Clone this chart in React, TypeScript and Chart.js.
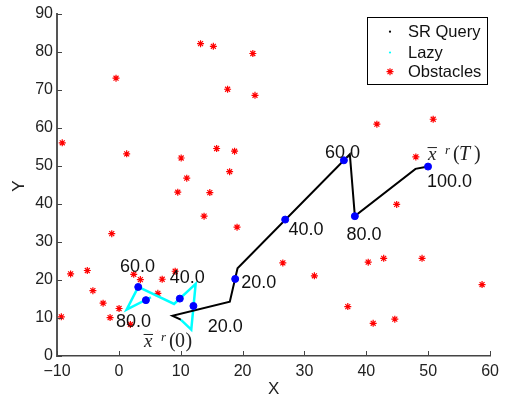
import React, { useEffect, useRef } from "react";
import { Chart, registerables } from "chart.js";
Chart.register(...registerables);

// ---------- data ----------
const xTickValues = [-10, 0, 10, 20, 30, 40, 50, 60];
const yTickValues = [0, 10, 20, 30, 40, 50, 60, 70, 80, 90];

const srPathX = [10.0, 8.65, 17.93, 19.18, 37.33, 38.14, 47.94, 49.97];
const srPathY = [9.56, 10.61, 14.3, 23.1, 53.1, 36.8, 49.25, 49.85];
const srNodeX = [18.8, 26.88, 36.37, 38.14, 49.97];
const srNodeY = [20.28, 35.9, 51.5, 36.8, 49.85];
const srNodeLabels = ["20.0", "40.0", "60.0", "80.0", "100.0"];

const lazyPathX = [10.0, 11.7, 12.41, 8.92, 3.13, 1.25, 5.18];
const lazyPathY = [9.56, 6.93, 18.96, 13.7, 18.17, 12.19, 15.46];
const lazyNodeX = [12.05, 9.85, 3.13, 4.37];
const lazyNodeY = [13.17, 15.1, 18.17, 14.7];
const lazyNodeLabels = ["20.0", "40.0", "60.0", "80.0"];

const startPoint = [8.65, 10.61];
const endPoint = [49.97, 49.85];

const obstacleX = [
  -0.46, 13.2, 15.27, 21.65, 17.57, 22.0, 41.7, 50.8,
  -9.15, 1.26, 10.07, 15.8, 18.7, 10.97, 17.9, 9.52, 14.7, 13.77, 19.1, -1.15, 48.0, 44.9,
  26.5, 31.6, 40.3, 42.8, 49.0, 37.0, 41.1, 44.6, 58.7,
  -7.8, -5.1, -4.2, -2.55, -9.3, -1.42, 0.03, 1.86, 2.4, 3.47, 7.0, 6.3, 9.1,
];
const obstacleY = [
  73.1, 82.2, 81.5, 79.6, 70.2, 68.6, 61.0, 62.3,
  56.1, 53.2, 52.1, 54.6, 53.9, 46.8, 48.5, 43.1, 43.0, 36.8, 33.9, 32.2, 52.4, 39.9,
  24.5, 21.1, 24.7, 25.7, 25.7, 13.0, 8.6, 9.7, 18.8,
  21.6, 22.5, 17.2, 13.9, 10.3, 10.1, 12.5, 8.3, 21.5, 20.1, 20.2, 16.5, 22.3,
];

const legendLabels = ["SR Query", "Lazy", "Obstacles"];
const xTitle = "X";
const yTitle = "Y";

// ---------- style / layout ----------
const SANS = '"Liberation Sans", Arial, Helvetica, sans-serif';
const SERIF = '"Liberation Serif", "DejaVu Serif", serif';
// pixel offsets of node labels: [dx to left edge, dy to baseline]
const srLabelOffsets = [[6, 9], [3.3, 15], [-19, -2.2], [-8.4, 24], [-1, 20.4]];
const lazyLabelOffsets = [[14.3, 26.4], [-10, -15.6], [-18.3, -14.6], [-30, 26.4]];

const pts = (xs: number[], ys: number[]) => xs.map((x, i) => ({ x, y: ys[i] }));

function drawXbar(ctx: CanvasRenderingContext2D, left: number, base: number, arg: string, italicArg: boolean) {
  ctx.save();
  ctx.fillStyle = "#222";
  ctx.strokeStyle = "#222";
  ctx.textAlign = "left";
  ctx.textBaseline = "alphabetic";
  ctx.font = `italic 19px ${SERIF}`;
  ctx.fillText("x", left, base);
  const w = ctx.measureText("x").width;
  ctx.lineWidth = 1;
  ctx.beginPath();
  ctx.moveTo(left - 0.5, base - 12.5);
  ctx.lineTo(left + w + 0.5, base - 12.5);
  ctx.stroke();
  ctx.font = `italic 13px ${SERIF}`;
  ctx.fillText("r", left + 17, base - 6);
  ctx.font = `20px ${SERIF}`;
  ctx.fillText("(", left + 25, base);
  ctx.font = `${italicArg ? "italic " : ""}20px ${SERIF}`;
  ctx.fillText(arg, left + 31, base);
  ctx.font = `20px ${SERIF}`;
  ctx.fillText(")", left + (italicArg ? 46 : 41.5), base);
  ctx.restore();
}

function drawStar(ctx: CanvasRenderingContext2D, x: number, y: number, r: number) {
  ctx.beginPath();
  for (let k = 0; k < 4; k++) {
    const a = (k * Math.PI) / 4;
    ctx.moveTo(x - r * Math.cos(a), y - r * Math.sin(a));
    ctx.lineTo(x + r * Math.cos(a), y + r * Math.sin(a));
  }
  ctx.stroke();
}

const overlayPlugin = {
  id: "overlay",
  afterDraw(chart: any) {
    const ctx: CanvasRenderingContext2D = chart.ctx;
    const xs = chart.scales.x;
    const ys = chart.scales.y;
    const area = chart.chartArea;
    ctx.save();
    // inward ticks
    ctx.strokeStyle = "#444";
    ctx.lineWidth = 1;
    ctx.beginPath();
    xTickValues.forEach((v) => {
      const px = Math.round(xs.getPixelForValue(v)) + 0.5;
      ctx.moveTo(px, area.bottom);
      ctx.lineTo(px, area.bottom - 5);
    });
    yTickValues.forEach((v) => {
      const py = Math.round(ys.getPixelForValue(v)) + 0.5;
      ctx.moveTo(area.left, py);
      ctx.lineTo(area.left + 5, py);
    });
    ctx.stroke();

    // node labels
    ctx.fillStyle = "#111";
    ctx.font = `18px ${SANS}`;
    ctx.textAlign = "left";
    ctx.textBaseline = "alphabetic";
    srNodeLabels.forEach((t, i) => {
      const px = xs.getPixelForValue(srNodeX[i]);
      const py = ys.getPixelForValue(srNodeY[i]);
      ctx.fillText(t, px + srLabelOffsets[i][0], py + srLabelOffsets[i][1]);
    });
    lazyNodeLabels.forEach((t, i) => {
      const px = xs.getPixelForValue(lazyNodeX[i]);
      const py = ys.getPixelForValue(lazyNodeY[i]);
      ctx.fillText(t, px + lazyLabelOffsets[i][0], py + lazyLabelOffsets[i][1]);
    });

    // start / end labels
    drawXbar(ctx, xs.getPixelForValue(startPoint[0]) - 28.3, ys.getPixelForValue(startPoint[1]) + 31.3, "0", false);
    drawXbar(ctx, xs.getPixelForValue(endPoint[0]) + 0, ys.getPixelForValue(endPoint[1]) - 6.5, "T", true);

    // axis titles
    ctx.fillStyle = "#222";
    ctx.font = `17px ${SANS}`;
    ctx.textAlign = "center";
    ctx.textBaseline = "middle";
    ctx.fillText(xTitle, (area.left + area.right) / 2, 389.5);
    ctx.save();
    ctx.translate(19, 186);
    ctx.rotate(-Math.PI / 2);
    ctx.fillText(yTitle, 0, 0);
    ctx.restore();

    // legend
    const lx = 367.5, ly = 17.5, lw = 120, lh = 67;
    ctx.fillStyle = "#fff";
    ctx.fillRect(lx, ly, lw, lh);
    ctx.strokeStyle = "#000";
    ctx.lineWidth = 1;
    ctx.strokeRect(lx, ly, lw, lh);
    const rowY = [31.7, 52.5, 71.7];
    ctx.fillStyle = "#000";
    ctx.beginPath();
    ctx.arc(390, rowY[0], 1.1, 0, Math.PI * 2);
    ctx.fill();
    ctx.fillStyle = "#00ffff";
    ctx.beginPath();
    ctx.arc(390, rowY[1], 1.1, 0, Math.PI * 2);
    ctx.fill();
    ctx.strokeStyle = "#ff0000";
    ctx.lineWidth = 1.2;
    drawStar(ctx, 390, rowY[2], 3.5);
    ctx.fillStyle = "#111";
    ctx.font = `16.5px ${SANS}`;
    ctx.textAlign = "left";
    ctx.textBaseline = "middle";
    legendLabels.forEach((t, i) => ctx.fillText(t, 408, rowY[i] + 0.5));
    ctx.restore();
  },
};

export default function App() {
  const ref = useRef<HTMLCanvasElement | null>(null);
  useEffect(() => {
    if (!ref.current) return;
    const chart = new Chart(ref.current, {
      type: "scatter",
      data: {
        datasets: [
          {
            label: "SR nodes",
            data: pts(srNodeX, srNodeY),
            backgroundColor: "#0000ff",
            borderColor: "#0000ff",
            pointRadius: 3.5,
            showLine: false,
          },
          {
            label: "Lazy nodes",
            data: pts(lazyNodeX, lazyNodeY),
            backgroundColor: "#0000ff",
            borderColor: "#0000ff",
            pointRadius: 3.5,
            showLine: false,
          },
          {
            label: legendLabels[0],
            data: pts(srPathX, srPathY),
            borderColor: "#000",
            borderWidth: 2,
            pointRadius: 0,
            showLine: true,
            tension: 0,
          },
          {
            label: legendLabels[1],
            data: pts(lazyPathX, lazyPathY),
            borderColor: "#00ffff",
            borderWidth: 2.5,
            pointRadius: 0,
            showLine: true,
            tension: 0,
          },
          {
            label: legendLabels[2],
            data: pts(obstacleX, obstacleY),
            pointStyle: "star",
            pointRadius: 3.5,
            borderColor: "#ff0000",
            backgroundColor: "#ff0000",
            borderWidth: 1.2,
            showLine: false,
          },
        ],
      },
      options: {
        animation: false,
        responsive: true,
        maintainAspectRatio: false,
        layout: { padding: { left: 0, right: 12, top: 14, bottom: 0 } },
        plugins: { legend: { display: false }, tooltip: { enabled: false } },
        scales: {
          x: {
            type: "linear",
            min: -10,
            max: 60,
            afterBuildTicks: (s: any) => {
              s.ticks = xTickValues.map((v) => ({ value: v }));
            },
            afterFit: (s: any) => {
              s.height = 41;
            },
            ticks: {
              padding: 6,
              color: "#222",
              font: { family: SANS, size: 16 },
              maxRotation: 0,
              autoSkip: false,
              callback: (v: any) => (Number(v) < 0 ? "\u2212" + Math.abs(Number(v)) : String(v)),
            },
            grid: { drawOnChartArea: false, drawTicks: false },
            border: { display: true, color: "#444", width: 1.5 },
          },
          y: {
            type: "linear",
            min: 0,
            max: 90,
            afterBuildTicks: (s: any) => {
              s.ticks = yTickValues.map((v) => ({ value: v }));
            },
            afterFit: (s: any) => {
              s.width = 57;
            },
            ticks: {
              padding: 4,
              color: "#222",
              font: { family: SANS, size: 16 },
              autoSkip: false,
            },
            grid: { drawOnChartArea: false, drawTicks: false },
            border: { display: true, color: "#555", width: 2 },
          },
        },
      },
      plugins: [overlayPlugin],
    } as any);
    return () => chart.destroy();
  }, []);
  return (
    <div style={{ position: "absolute", left: 0, top: 0, width: 505, height: 397, background: "#fff" }}>
      <canvas ref={ref} />
    </div>
  );
}
